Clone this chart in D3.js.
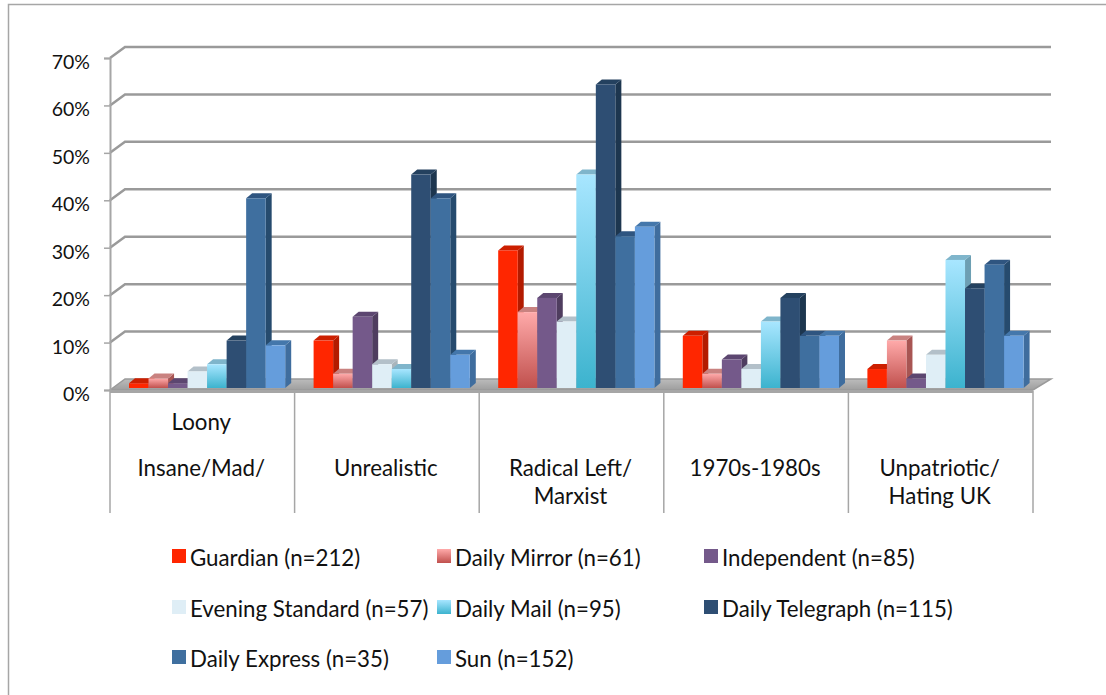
<!DOCTYPE html>
<html>
<head>
<meta charset="utf-8">
<script src="https://cdnjs.cloudflare.com/ajax/libs/d3/7.8.5/d3.min.js"></script>
<style>
  html, body { margin: 0; padding: 0; background: #fff; }
  svg { display: block; }
  text { font-family: Lato, "Open Sans", sans-serif; fill: #111; }
</style>
</head>
<body>
<svg id="chart"></svg>
<script>
const categories = [
    ["Loony", "Insane/Mad/"],
    ["Unrealistic"],
    ["Radical Left/", "Marxist"],
    ["1970s-1980s"],
    ["Unpatriotic/", "Hating UK"]
];
const categoryIds = ["insane", "unrealistic", "radical", "seventies", "unpatriotic"];
const seriesNames = ["Guardian (n=212)", "Daily Mirror (n=61)", "Independent (n=85)",
    "Evening Standard (n=57)", "Daily Mail (n=95)", "Daily Telegraph (n=115)",
    "Daily Express (n=35)", "Sun (n=152)"];

const guardian = [1, 10, 29, 11, 4];
const mirror = [2, 3, 16, 3, 10];
const independent = [1, 15, 19, 6, 2];
const standard = [3.5, 5, 14, 4, 7];
const mail = [5, 4, 45, 14, 27];
const telegraph = [10, 45, 64, 19, 21];
const express = [40, 40, 32, 11, 26];
const sun = [9, 7, 34, 11, 11];
const seriesValues = [guardian, mirror, independent, standard, mail, telegraph, express, sun];

const yTicks = [0, 10, 20, 30, 40, 50, 60, 70];

// front, side, top, and bottom colour when the front has a gradient
const frontColors = ["#ff2600", "#ffaaaa", "#74598a", "#dfeef6", "#a8e6ff", "#2e4e73", "#3f6f9f", "#659ddc"];
const sideColors = ["#b31b00", "#a85553", "#4f3d5f", "#a9b5bc", "#6d9fb3", "#1d364f", "#264b6e", "#3f6d9e"];
const topColors = ["#cc1f00", "#c98280", "#5c4670", "#b3c0c9", "#7fb5cb", "#24415f", "#2f5580", "#4477ab"];
const bottomColors = [null, "#c0504d", null, null, "#3cb3ce", null, null, null];

const width = 1106;
const height = 695;
const depth = { x: 15, y: -11 };     // floor / back wall offset
const barDepth = { x: 6, y: -5 };

const svg = d3.select("#chart").attr("width", width).attr("height", height);

const defs = svg.append("defs");
frontColors.forEach((c, i) => {
    if (!bottomColors[i]) return;
    const grad = defs.append("linearGradient")
        .attr("id", "grad" + i)
        .attr("x1", 0).attr("x2", 0).attr("y1", 0).attr("y2", 1);
    grad.append("stop").attr("offset", 0).attr("stop-color", c);
    grad.append("stop").attr("offset", 1).attr("stop-color", bottomColors[i]);
});
const floorGrad = defs.append("linearGradient")
    .attr("id", "floorGrad")
    .attr("x1", 0).attr("x2", 0).attr("y1", 0).attr("y2", 1);
floorGrad.append("stop").attr("offset", 0).attr("stop-color", "#bcbcbc");
floorGrad.append("stop").attr("offset", 1).attr("stop-color", "#9e9e9e");

const fillOf = i => bottomColors[i] ? `url(#grad${i})` : frontColors[i];

// outer frame of the pasted chart
svg.append("path")
    .attr("d", `M8.5,${height} V4.5 H${width}`)
    .attr("fill", "none")
    .attr("stroke", "#a6a6a6")
    .attr("stroke-width", 1.5);

const x = d3.scaleBand().domain(categoryIds).range([110, 1033]);
const xInner = d3.scaleBand().domain(d3.range(seriesNames.length)).range([19, 175.2]);
const y = d3.scaleLinear().domain([0, 70]).range([390, 58]);
const barBaseShift = -2;

// gridlines on the side and back wall
const grid = svg.append("g");
grid.selectAll("path")
    .data(yTicks.slice(1))
    .enter()
    .append("path")
    .attr("d", d => `M110,${y(d)} L${110 + depth.x},${y(d) + depth.y} H1051`)
    .attr("fill", "none")
    .attr("stroke", "#9a9a9a")
    .attr("stroke-width", 2.5);

// floor
svg.append("path")
    .attr("d", `M110,390 L${110 + depth.x},${390 + depth.y} H1051 L1033,390 Z`)
    .attr("fill", "url(#floorGrad)")
    .attr("stroke", "#9a9a9a")
    .attr("stroke-width", 1.5);
svg.append("line")
    .attr("x1", 110).attr("x2", 1033)
    .attr("y1", 391.5).attr("y2", 391.5)
    .attr("stroke", "#a6a6a6")
    .attr("stroke-width", 3);

// y axis
const yAxis = svg.append("g")
    .attr("transform", "translate(110,0)")
    .call(d3.axisLeft(y).tickValues(yTicks).tickFormat(d => d + "%").tickSize(6).tickPadding(14));
yAxis.select(".domain").attr("stroke", "#a6a6a6").attr("stroke-width", 2);
yAxis.selectAll(".tick line").attr("stroke", "#a6a6a6").attr("stroke-width", 1.5);
yAxis.selectAll(".tick text")
    .attr("dy", "1.05em")
    .attr("y", -10)
    .style("font-size", "19.5px")
    .style("font-family", "Lato")
    .attr("fill", "#111");

// category separators
svg.append("g").selectAll("line")
    .data(categoryIds.concat(["end"]))
    .enter()
    .append("line")
    .attr("x1", (d, i) => i < categoryIds.length ? x(d) : x.range()[1])
    .attr("x2", (d, i) => i < categoryIds.length ? x(d) : x.range()[1])
    .attr("y1", 391)
    .attr("y2", 513)
    .attr("stroke", "#a6a6a6")
    .attr("stroke-width", 1.5);

// category labels: the last line of each label sits on the same row unless it wraps
svg.append("g").selectAll("g")
    .data(categories)
    .enter()
    .append("g")
    .each(function(lines, i) {
        const wrapped = i === 2 || i === 4;
        const baseY = i === 0 ? 430 : 476;
        d3.select(this).selectAll("text")
            .data(lines)
            .enter()
            .append("text")
            .attr("x", x(categoryIds[i]) + x.bandwidth() / 2 - 1)
            .attr("y", (d, j) => baseY + j * (wrapped ? 28 : 46))
            .attr("text-anchor", "middle")
            .style("font-size", "22.3px")
            .text(d => d);
    });

// 3D bars, painted left to right so each one hides the previous side face
const bars = svg.append("g");
categoryIds.forEach((cat, c) => {
    seriesValues.forEach((values, s) => {
        const x0 = x(cat) + xInner(s);
        const x1 = x0 + xInner.bandwidth();
        const yBase = y(0) + barBaseShift;
        const yTop = y(values[c]) + barBaseShift;
        const dx = barDepth.x;
        const dy = barDepth.y;
        const bar = bars.append("g");
        bar.append("path")
            .attr("d", `M${x1},${yTop} L${x1 + dx},${yTop + dy} V${yBase + dy} L${x1},${yBase} Z`)
            .attr("fill", sideColors[s]);
        bar.append("path")
            .attr("d", `M${x0},${yTop} L${x0 + dx},${yTop + dy} H${x1 + dx} L${x1},${yTop} Z`)
            .attr("fill", topColors[s]);
        bar.append("rect")
            .attr("x", x0)
            .attr("y", yTop)
            .attr("width", xInner.bandwidth())
            .attr("height", yBase - yTop)
            .attr("fill", fillOf(s));
    });
});

// legend
const legendCols = [172, 437, 704];
const legendRows = [549, 600, 650];
const legend = svg.append("g");
seriesNames.forEach((name, i) => {
    const col = i % 3;
    const row = Math.floor(i / 3);
    legend.append("rect")
        .attr("x", legendCols[col])
        .attr("y", legendRows[row])
        .attr("width", 14)
        .attr("height", 14)
        .attr("fill", fillOf(i));
    legend.append("text")
        .attr("x", legendCols[col] + 18)
        .attr("y", legendRows[row] + 16.5)
        .style("font-size", "22.3px")
        .text(name);
});
</script>
</body>
</html>
